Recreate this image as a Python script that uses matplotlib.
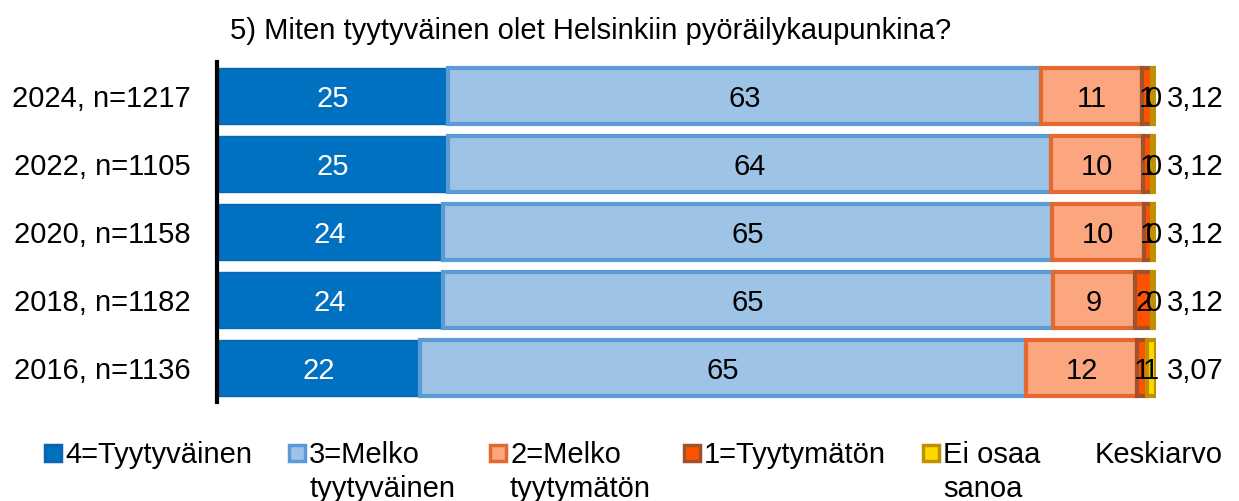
import matplotlib
matplotlib.use("Agg")
import matplotlib.pyplot as plt
from matplotlib.patches import Rectangle

plt.rcParams['font.family'] = ['Liberation Sans', 'DejaVu Sans']

categories = ["2024, n=1217", "2022, n=1105", "2020, n=1158", "2018, n=1182", "2016, n=1136"]
series_names = ["4=Tyytyväinen", "3=Melko\ntyytyväinen", "2=Melko\ntyytymätön", "1=Tyytymätön", "Ei osaa\nsanoa"]
tyytyvainen = [24.6, 24.6, 24.1, 24.1, 21.6]
melko_tyytyvainen = [63.2, 64.2, 64.8, 64.9, 64.6]
melko_tyytymaton = [10.7, 9.8, 9.8, 8.8, 11.8]
tyytymaton = [1.1, 1.0, 0.9, 1.8, 1.0]
ei_osaa = [0.4, 0.4, 0.4, 0.4, 1.0]
keskiarvo = [3.12, 3.12, 3.12, 3.12, 3.07]
title = "5) Miten tyytyväinen olet Helsinkiin pyöräilykaupunkina?"

series = [tyytyvainen, melko_tyytyvainen, melko_tyytymaton, tyytymaton, ei_osaa]
faces = ["#0070C0", "#9DC3E6", "#FBA67F", "#FF5200", "#FFD700"]
edges = ["#0A66B0", "#5B9BD5", "#E2692F", "#A0522D", "#BF9000"]
text_colors = ["white", "black", "black", "black", "black"]

W, H = 1239, 501
fig = plt.figure(figsize=(W / 100, H / 100), dpi=100)
ax = fig.add_axes([217 / W, 99 / H, (1156 - 217) / W, (402 - 62) / H])

FS = 21
ypos = list(range(len(categories)))
left = [0.0] * len(categories)
for vals, fc, ec, tc in zip(series, faces, edges, text_colors):
    ax.barh(ypos, vals, left=left, height=0.82, color=fc, edgecolor=ec,
            linewidth=3 if fc != faces[0] else 1.0)
    for y, v, l in zip(ypos, vals, left):
        ax.text(l + v / 2, y, f"{round(v):d}", ha="center", va="center_baseline",
                color=tc, fontsize=FS)
    left = [a + b for a, b in zip(left, vals)]

for y, m in zip(ypos, keskiarvo):
    ax.text(101.2, y, f"{m:.2f}".replace(".", ","), ha="left", va="center_baseline", fontsize=FS)

ax.set_xlim(0, 100)
ax.set_ylim(4.5, -0.5)
ax.set_yticks(ypos)
ax.set_yticklabels(categories, fontsize=FS)
ax.tick_params(axis="y", length=0, pad=19)
ax.set_xticks([])
for s in ["top", "right", "bottom"]:
    ax.spines[s].set_visible(False)
ax.spines["left"].set_linewidth(3)
ax.spines["left"].set_color("black")

fig.text(230 / W, 1 - 28 / H, title, ha="left", va="center_baseline", fontsize=FS)

# legend
marker_x = [45, 289, 490, 684, 923]
text_x = [65, 309, 510, 704, 943]
base1 = 463
base2 = 497
msz = 16
for name, fc, ec, mx, tx in zip(series_names, faces, edges, marker_x, text_x):
    fig.add_artist(Rectangle((mx / W, 1 - (453 + msz / 2) / H), msz / W, msz / H,
                             transform=fig.transFigure, facecolor=fc, edgecolor=ec,
                             linewidth=2.5))
    lines = name.split("\n")
    for i, ln in enumerate(lines):
        b = base1 if i == 0 else base2
        fig.text(tx / W, 1 - b / H, ln, ha="left", va="baseline", fontsize=FS)
fig.text(1095 / W, 1 - base1 / H, "Keskiarvo", ha="left", va="baseline", fontsize=FS)

fig.savefig("out.png", dpi=100)
